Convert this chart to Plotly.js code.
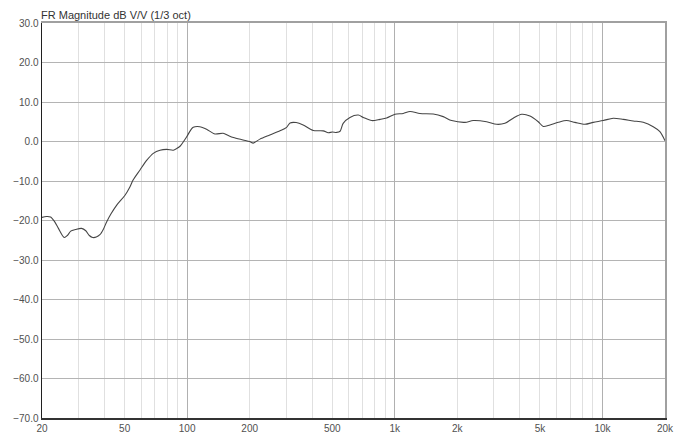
<!DOCTYPE html>
<html>
<head>
<meta charset="utf-8">
<script src="https://cdn.plot.ly/plotly-3.0.1.min.js"></script>
<style>html,body{margin:0;padding:0;background:#fff;}#chart{width:685px;height:432px;}</style>
</head>
<body>
<div id="chart"></div>
<script>
const chartTitle = "FR Magnitude dB V/V (1/3 oct)";
const freqHz = [20,21,22,23,24,25.6,26.5,27.5,29,31,32.5,33.8,35.1,36.5,38,39.5,41,43,45.8,50.2,53,55,59.3,63.8,68.7,74,79.7,85.8,89,92.4,99.5,104,107,115,124,136,149,158,167,186,200,208,224,250,280,300,313,335,362,405,452,478,500,524,545,564,608,667,705,774,848,913,1002,1098,1183,1321,1531,1710,1878,2177,2386,2767,3093,3388,3717,4080,4474,4906,5186,5584,6124,6714,7363,8234,9029,10084,11266,12586,14064,15714,17550,18900,20000];
const magDb = [-19.2,-19.0,-19.1,-20.3,-22.0,-24.3,-23.8,-22.7,-22.3,-22.0,-22.6,-23.8,-24.3,-24.2,-23.6,-22.2,-20.3,-18.3,-16.1,-13.6,-11.5,-9.7,-7.2,-4.8,-3.0,-2.2,-2.0,-2.2,-1.8,-1.2,1.2,2.9,3.6,3.75,3.1,1.9,2.1,1.5,1.0,0.4,0.0,-0.4,0.6,1.65,2.7,3.5,4.7,4.8,4.2,2.8,2.7,2.2,2.4,2.3,2.6,4.6,6.1,6.7,6.1,5.3,5.6,5.95,6.9,7.1,7.6,7.1,6.95,6.3,5.3,4.85,5.3,5.0,4.35,4.6,5.9,6.9,6.45,5.0,3.8,4.2,4.85,5.3,4.85,4.35,4.85,5.3,5.9,5.6,5.2,4.85,3.75,2.5,0.2];
const xTickVals = [20,50,100,200,500,1000,2000,5000,10000,20000];
const xTickText = ["20","50","100","200","500","1k","2k","5k","10k","20k"];
const decadeVals = [100,1000,10000];
const minorVals = [];
[10,100,1000,10000].forEach(d => { for (let m = 1; m <= 9; m++) { const v = m*d; if (v > 20 && v < 20000) minorVals.push(v); } });
const yMin = -70, yMax = 30;

const xr = [Math.log10(20), Math.log10(20000)];
const tickFont = {family: "Liberation Sans, Arial, sans-serif", size: 10, color: "#505050"};

const data = [
  {x: [20, 20000], y: [yMin, yMin], xaxis: "x", yaxis: "y", mode: "lines", line: {width: 0}, hoverinfo: "skip", showlegend: false},
  {x: freqHz, y: magDb, xaxis: "x2", yaxis: "y2", mode: "lines", line: {color: "#454545", width: 1.1, shape: "spline", smoothing: 0.8}, showlegend: false}
];

const layout = {
  width: 685, height: 432,
  margin: {l: 42, r: 20, t: 23, b: 14},
  paper_bgcolor: "#fff", plot_bgcolor: "#fff",
  showlegend: false,
  font: {family: "Liberation Sans, Arial, sans-serif"},
  xaxis: {
    type: "log", range: xr, tickvals: xTickVals, ticktext: xTickText,
    showgrid: true, gridcolor: "#e0e0e0", gridwidth: 1,
    minor: {tickvals: minorVals, showgrid: true, gridcolor: "#e0e0e0", gridwidth: 1, ticks: ""},
    showline: true, linecolor: "#333", linewidth: 1.5, ticks: "", zeroline: false,
    tickfont: tickFont, fixedrange: true
  },
  xaxis2: {
    type: "log", range: xr, overlaying: "x", side: "top", tickvals: decadeVals,
    showticklabels: false, showgrid: true, gridcolor: "#b0b0b0", gridwidth: 1,
    showline: true, linecolor: "#a0a0a0", linewidth: 2, ticks: "", zeroline: false, fixedrange: true
  },
  yaxis: {
    range: [yMin, yMax], dtick: 10, tick0: 0, tickformat: ".1f",
    showgrid: true, gridcolor: "#b4b4b4", gridwidth: 1,
    showline: true, linecolor: "#202020", linewidth: 1.5, ticks: "", zeroline: false,
    tickfont: tickFont, fixedrange: true
  },
  yaxis2: {
    range: [yMin, yMax], overlaying: "y", side: "right", showticklabels: false,
    showgrid: false, showline: true, linecolor: "#a0a0a0", linewidth: 2, ticks: "", zeroline: false, fixedrange: true
  },
  annotations: [{
    text: chartTitle, xref: "paper", yref: "paper", x: 0, y: 1, xanchor: "left", yanchor: "bottom",
    xshift: -3, yshift: 0, showarrow: false, font: {family: "Liberation Sans, Arial, sans-serif", size: 11, color: "#333"}
  }]
};

Plotly.newPlot("chart", data, layout, {displayModeBar: false, staticPlot: true});
</script>
</body>
</html>
